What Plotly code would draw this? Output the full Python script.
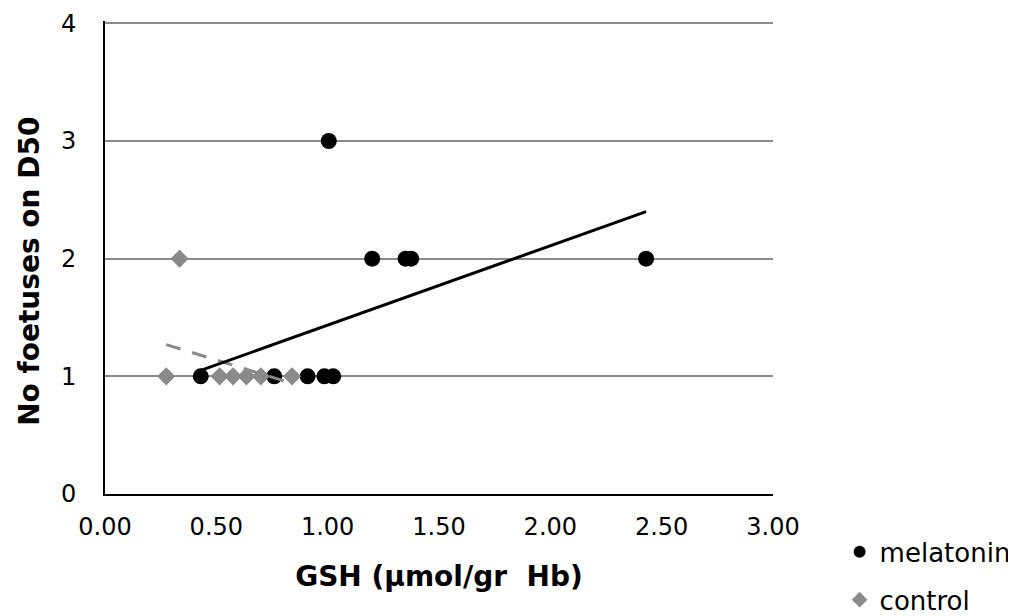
import plotly.graph_objects as go

# Data
mel_x = [0.43, 0.76, 0.91, 0.985, 1.025, 1.005, 1.20, 1.35, 1.375, 2.43]
mel_y = [1, 1, 1, 1, 1, 3, 2, 2, 2, 2]
ctl_x = [0.275, 0.335, 0.515, 0.575, 0.635, 0.70, 0.84]
ctl_y = [1, 2, 1, 1, 1, 1, 1]
mel_trend_x = [0.43, 2.43]
mel_trend_y = [1.05, 2.40]
ctl_trend_x = [0.275, 0.84]
ctl_trend_y = [1.27, 0.94]

x_ticks = [0, 0.5, 1.0, 1.5, 2.0, 2.5, 3.0]
y_ticks = [0, 1, 2, 3, 4]

FONT = "DejaVu Sans, Liberation Sans, Arial, sans-serif"
GRAY = "#8a8a8a"

fig = go.Figure()
fig.add_trace(go.Scatter(x=mel_x, y=mel_y, mode="markers", name="melatonin",
                         marker=dict(symbol="circle", size=16, color="black"),
                         legendgroup="a"))
fig.add_trace(go.Scatter(x=ctl_x, y=ctl_y, mode="markers", name="control",
                         marker=dict(symbol="diamond", size=14, color=GRAY),
                         legendgroup="b"))
fig.add_trace(go.Scatter(x=ctl_trend_x, y=ctl_trend_y, mode="lines",
                         line=dict(color=GRAY, width=3, dash="15px,12px"),
                         showlegend=False, hoverinfo="skip"))
fig.add_trace(go.Scatter(x=mel_trend_x, y=mel_trend_y, mode="lines",
                         line=dict(color="black", width=3),
                         showlegend=False, hoverinfo="skip"))

fig.update_layout(
    width=1008, height=608,
    margin=dict(l=97, r=243, t=13, b=122),
    paper_bgcolor="white", plot_bgcolor="white",
    font=dict(family=FONT, size=24, color="black"),
    showlegend=True,
    legend=dict(xref="container", yref="container", x=0.825, y=0.144,
                xanchor="left", yanchor="top",
                traceorder="grouped", tracegroupgap=11,
                font=dict(size=26), itemsizing="constant",
                bgcolor="rgba(0,0,0,0)"),
    xaxis=dict(range=[0, 3], tickvals=x_ticks, tickformat=".2f",
               automargin=False,
               showgrid=False, zeroline=False, showline=True,
               linecolor="black", linewidth=2, ticks="",
               ticklabelstandoff=10,
               title=dict(text="<b>GSH (µmol/gr  Hb)</b>", font=dict(size=28), standoff=27),
               tickfont=dict(size=24)),
    yaxis=dict(range=[0, 4.02], tickvals=y_ticks,
               automargin=False,
               showgrid=True, gridcolor=GRAY, gridwidth=2,
               zeroline=False, showline=True, linecolor="black", linewidth=2,
               ticks="", ticklabelstandoff=22,
               tickfont=dict(size=24)),
    annotations=[dict(text="<b>No foetuses on D50</b>", textangle=-90,
                      xref="paper", yref="paper", x=-0.112, y=0.47,
                      xanchor="center", yanchor="middle", showarrow=False,
                      font=dict(size=28))],
)

fig.write_html("out.html")
